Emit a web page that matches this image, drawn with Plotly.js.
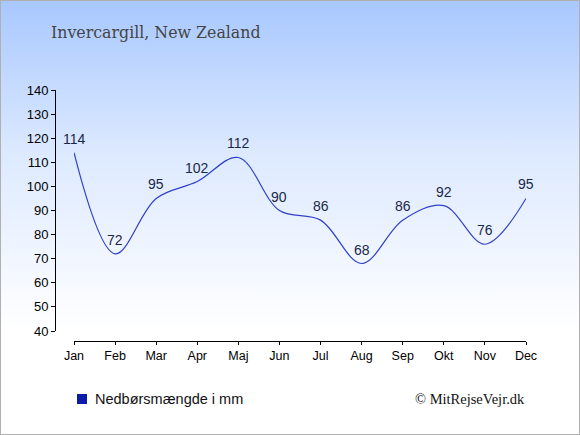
<!DOCTYPE html>
<html>
<head>
<meta charset="utf-8">
<script src="https://cdn.plot.ly/plotly-3.0.1.min.js"></script>
<style>
html,body{margin:0;padding:0;}
#chart{width:578px;height:433px;border:1px solid #b0b0b0;
background:linear-gradient(to bottom,#a8c8ff 0px,#dce9ff 150px,#ffffff 330px,#ffffff 435px);}
</style>
</head>
<body>
<div id="chart"></div>
<script>
const months = ['Jan','Feb','Mar','Apr','Maj','Jun','Jul','Aug','Sep','Okt','Nov','Dec'];
const rainfall = [114,72,95,102,112,90,86,68,86,92,76,95];
const yTicks = [40,50,60,70,80,90,100,110,120,130,140];
const seriesName = 'Nedbørsmængde i mm';
const chartTitle = 'Invercargill, New Zealand';
const credit = '© MitRejseVejr.dk';

const idx = months.map((m,i)=>i);

const trace = {
  x: idx, y: rainfall, mode: 'lines', type: 'scatter',
  line: {shape: 'spline', color: '#3040c8', width: 1.2, smoothing: 1},
  showlegend: false, hoverinfo: 'none'
};

const labelFont = {family: 'Liberation Sans, Arial, sans-serif', size: 14, color: '#1a2848'};
const valueLabels = rainfall.map((v,i)=>({
  x: i, y: v, xref: 'x', yref: 'y', text: String(v), showarrow: false,
  xanchor: 'center', yanchor: 'middle', yshift: 14, font: labelFont
}));

const layout = {
  width: 578, height: 433,
  paper_bgcolor: 'rgba(0,0,0,0)', plot_bgcolor: 'rgba(0,0,0,0)',
  margin: {l: 54, r: 53, t: 89, b: 93, pad: 0},
  title: {text: chartTitle, x: 50/578, xanchor: 'left', xref: 'container', y: 1-31/433, yanchor: 'middle',
          font: {family: 'DejaVu Serif, serif', size: 15.8, color: '#444'}},
  xaxis: {range: [0, 11], domain: [(73-54)/471, 1], anchor: 'free', position: 0,
          tickvals: idx, ticktext: months, ticks: 'outside', ticklen: 3, tickcolor: '#000',
          showline: true, linecolor: '#000', linewidth: 1, showgrid: false, zeroline: false,
          tickfont: {family: 'Liberation Sans, Arial, sans-serif', size: 12.5, color: '#000'}, fixedrange: true},
  yaxis: {range: [40, 140], domain: [10/251, 1], anchor: 'free', position: 0,
          tickvals: yTicks, ticks: 'outside', ticklen: 4, tickcolor: '#000',
          showline: true, linecolor: '#000', linewidth: 1, showgrid: false, zeroline: false,
          tickfont: {family: 'Liberation Sans, Arial, sans-serif', size: 13, color: '#000'}, fixedrange: true},
  shapes: [{type: 'rect', xref: 'paper', yref: 'paper',
            x0: (76-54)/471, x1: (86-54)/471, y0: (340-393)/251, y1: (340-403)/251,
            fillcolor: '#0a1ca8', line: {width: 0}}],
  annotations: valueLabels.concat([
    {text: seriesName, xref: 'paper', yref: 'paper', x: (92-54)/471, y: (340-398)/251,
     xanchor: 'left', yanchor: 'middle', showarrow: false,
     font: {family: 'Liberation Sans, Arial, sans-serif', size: 14.5, color: '#111'}},
    {text: credit, xref: 'paper', yref: 'paper', x: (526-54)/471, y: (340-398)/251,
     xanchor: 'right', yanchor: 'middle', showarrow: false,
     font: {family: 'Liberation Serif, Times New Roman, serif', size: 14.5, color: '#111'}}
  ])
};

Plotly.newPlot('chart', [trace], layout, {displayModeBar: false, staticPlot: true});
</script>
</body>
</html>
